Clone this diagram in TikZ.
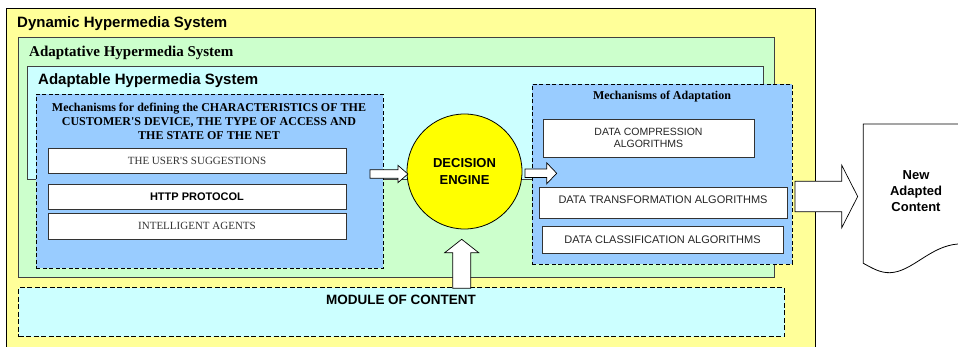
\documentclass[tikz,border=0pt]{standalone}
\usepackage{fontspec}
\setmainfont{Liberation Serif}
\setsansfont{Liberation Sans}
\usetikzlibrary{calc}

\definecolor{dhsfill}{HTML}{FFFF99}
\definecolor{ahsfill}{HTML}{CCFFCC}
\definecolor{abhsfill}{HTML}{CCFFFF}
\definecolor{mechfill}{HTML}{99CCFF}
\definecolor{enginefill}{HTML}{FFFF00}

% horizontal block arrow: tail, tip, shaft half-width, head half-width, head length
\newcommand\blockarrowh[5]{%
  \draw[blockarrow] ($(#1|-#2)+(0,-#3)$) -- ($(#2)+(-#5,-#3)$) -- ($(#2)+(-#5,-#4)$) -- (#2)
    -- ($(#2)+(-#5,#4)$) -- ($(#2)+(-#5,#3)$) -- ($(#1|-#2)+(0,#3)$) -- cycle;}
% upward block arrow: tail, tip, shaft half-width, head half-width, head length
\newcommand\blockarrowv[5]{%
  \draw[blockarrow] ($(#2|-#1)+(-#3,0)$) -- ($(#2)+(-#3,#5)$) -- ($(#2)+(-#4,#5)$) -- (#2)
    -- ($(#2)+(#4,#5)$) -- ($(#2)+(#3,#5)$) -- ($(#2|-#1)+(#3,0)$) -- cycle;}

\begin{document}
\begin{tikzpicture}[x=1pt,y=-1pt,
  panel/.style={draw=black!75, line width=0.9pt, anchor=north west, inner sep=0pt},
  mech/.style={draw=black, dash pattern=on 4pt off 2.5pt, fill=mechfill, line width=0.7pt,
    anchor=north west, inner sep=0pt},
  item/.style={draw=black!80, fill=white, line width=0.9pt, inner sep=0pt, align=center},
  blockarrow/.style={draw=black, fill=white, line width=0.7pt, line join=miter},
  heading/.style={anchor=base west, inner sep=0pt, font=\sffamily\bfseries\fontsize{15}{18}\selectfont},
  serifitem/.style={font=\rmfamily\fontsize{11}{13}\selectfont, text=black!80},
  sansitem/.style={font=\sffamily\fontsize{11}{13}\selectfont, text=black!85},
]
\useasboundingbox (0,0) rectangle (958,347);
\clip (0,0) rectangle (958,347);
\fill[white] (0,0) rectangle (958,347);

% nested system panels
\node[panel, draw=black, fill=dhsfill, minimum width=809, minimum height=345] (dhs) at (6,8) {};
\node[panel, fill=ahsfill, minimum width=756, minimum height=240] (ahs) at (18,37) {};
\node[panel, fill=abhsfill, minimum width=736, minimum height=113] (abhs) at (27,66) {};

\node[heading] (dhs-t) at (17,28) {Dynamic Hypermedia System};
\node[anchor=base west, inner sep=0pt, font=\rmfamily\bfseries\fontsize{15}{18}\selectfont]
  (ahs-t) at (29,57) {Adaptative Hypermedia System};
\node[heading] (abhs-t) at (38,85) {Adaptable Hypermedia System};

% mechanism groups
\node[mech, minimum width=347, minimum height=174] (lmech) at (36,94) {};
\node[mech, minimum width=260, minimum height=180] (rmech) at (532,84) {};

% multi-line text: the base anchor sits on the last line
\node[anchor=base, inner sep=0pt, align=center, font=\rmfamily\bfseries\fontsize{12}{14}\selectfont]
  (lmech-t) at (209,140)
  {Mechanisms for defining the CHARACTERISTICS OF THE\\CUSTOMER\textquotesingle S DEVICE, THE TYPE OF ACCESS AND\\THE STATE OF THE NET};
\node[anchor=base, inner sep=0pt, font=\rmfamily\bfseries\fontsize{12}{14}\selectfont]
  (rmech-t) at (662,100) {Mechanisms of Adaptation};

% module of content
\node[panel, draw=black, dash pattern=on 5pt off 2.5pt, line width=1.3pt, fill=abhsfill,
  minimum width=766, minimum height=49] (moc) at (18,287) {};
\node[anchor=base, inner sep=0pt, font=\sffamily\bfseries\fontsize{13.5}{16}\selectfont]
  (moc-t) at (401,305) {MODULE OF CONTENT};

% left items
\node[item, serifitem, minimum width=298, minimum height=25] (sugg) at (197,160.5)
  {THE USER\textquotesingle S SUGGESTIONS};
\node[item, font=\sffamily\bfseries\fontsize{11}{13}\selectfont, minimum width=298, minimum height=25]
  (http) at (197,196.5) {HTTP PROTOCOL};
\node[item, serifitem, minimum width=298, minimum height=26] (agents) at (197,226)
  {INTELLIGENT AGENTS};

% right items
\node[item, font=\sffamily\fontsize{10.5}{12}\selectfont, text=black!85, minimum width=211, minimum height=38]
  (compr) at (648.5,138) {DATA COMPRESSION\\ALGORITHMS};
\node[item, sansitem, text height=7.5pt, text depth=5pt, minimum width=248, minimum height=31]
  (transf) at (663,202.5) {DATA TRANSFORMATION ALGORITHMS};
\node[item, sansitem, minimum width=241, minimum height=27] (classif) at (662.5,239.5)
  {DATA CLASSIFICATION ALGORITHMS};

% decision engine
\node[circle, draw=black, line width=0.8pt, fill=enginefill, minimum size=115, inner sep=0pt,
  align=center, font=\sffamily\bfseries\fontsize{13}{17}\selectfont] (engine) at (464.5,171.5)
  {DECISION\\ENGINE};

% output document
\draw[fill=white, draw=black, line width=0.8pt] (863.3,124) -- (1000,124) -- (1000,250)
  .. controls (985,244) and (970,243) .. (958,244)
  .. controls (930,246) and (912,272) .. (890,272.7)
  .. controls (880,273) and (872,268) .. (863.3,263.3) -- cycle;
\node[anchor=base, inner sep=0pt, align=center, font=\sffamily\bfseries\fontsize{13}{16}\selectfont]
  (newc) at (916,212) {New\\Adapted\\Content};

% connectors
\coordinate (a1tail) at (370,174);
\coordinate (a1tip) at ($(engine.west)+(1.3,2.5)$);
\coordinate (a2tail) at (525,173.3);
\coordinate (a2tip) at (556.7,173.3);
\coordinate (a3tail) at (461.7,288.3);
\coordinate (a3tip) at (461.7,239.3);
\coordinate (a4tail) at (795,196.5);
\coordinate (a4tip) at (857.7,196.5);

\blockarrowh{a1tail}{a1tip}{4.3}{8.7}{10}
\blockarrowh{a2tail}{a2tip}{4.3}{10.5}{10}
\blockarrowv{a3tail}{a3tip}{9}{17}{13.4}
\blockarrowh{a4tail}{a4tip}{15.3}{31.3}{16}
\end{tikzpicture}
\end{document}
